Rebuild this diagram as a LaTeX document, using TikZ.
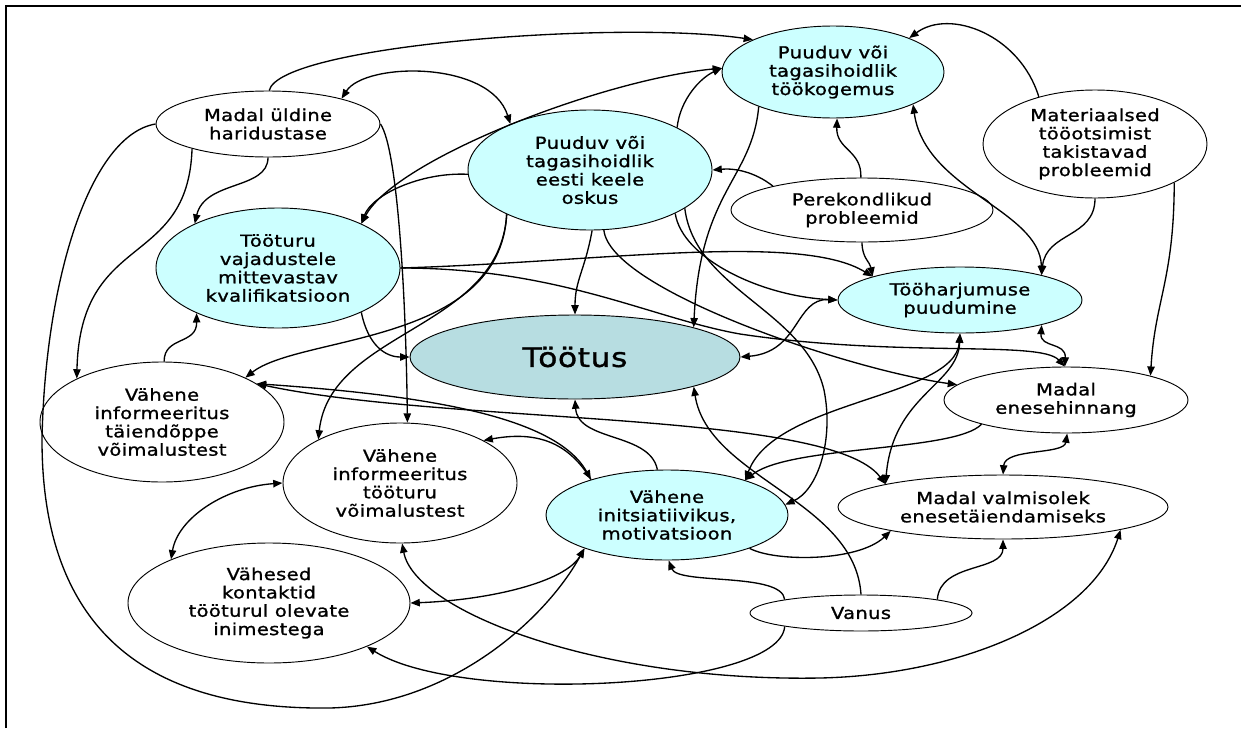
\documentclass[tikz,border=0pt]{standalone}
\usepackage{fontspec}
\setmainfont{DejaVu Sans}[FakeStretch=1.18,LetterSpace=2,FakeBold=1.2]
\usetikzlibrary{shapes.geometric, arrows.meta}
\definecolor{keycyan}{RGB}{204,255,255}
\definecolor{coreteal}{RGB}{183,221,225}
\tikzset{
  cause/.style={ellipse, draw, line width=0.7pt, inner sep=0pt, align=center,
    font=\fontsize{12.4}{13.75}\selectfont},
  key/.style={cause, fill=keycyan},
  radii/.style 2 args={minimum width={1.5*#1pt}, minimum height={1.5*#2pt}},
}
\begin{document}
\begin{tikzpicture}[x=0.75pt, y=-0.75pt, >={Triangle[length=7pt,width=5.5pt]}, line width=1pt]
    \useasboundingbox (0,0) rectangle (1241,728);
    \draw[line width=1.5pt] (5.5,728) -- (5.5,5.5) -- (1241,5.5);

    \node[cause, radii={112}{33}] (haridus) at (268,124) {Madal üldine\\haridustase};
    \node[key, radii={111}{46}] (kogemus) at (833,72) {Puuduv või\\tagasihoidlik\\töökogemus};
    \node[cause, radii={112}{54}] (materiaal) at (1095,144) {Materiaalsed\\tööotsimist\\takistavad\\probleemid};
    \node[key, radii={122}{60}] (keel) at (590,170) {Puuduv või\\tagasihoidlik\\eesti keele\\oskus};
    \node[cause, radii={131}{32}] (pere) at (862,210) {Perekondlikud\\probleemid};
    \node[key, radii={122}{60}] (kvalif) at (278,268) {Tööturu\\vajadustele\\mittevastav\\kvalifikatsioon};
    \node[key, radii={122}{33}] (harjumus) at (960,300) {Tööharjumuse\\puudumine};
    \node[cause, radii={165}{42}, fill=coreteal, font=\fontsize{20}{24}\selectfont] (tootus) at (575,357) {Töötus};
    \node[cause, radii={122}{33}] (enesehinnang) at (1066,400) {Madal\\enesehinnang};
    \node[cause, radii={122}{60}] (taiendope) at (162,422) {Vähene\\informeeritus\\täiendõppe\\võimalustest};
    \node[cause, radii={117}{60}] (tooturuinfo) at (400,483) {Vähene\\informeeritus\\tööturu\\võimalustest};
    \node[key, radii={121}{45}] (motiv) at (667,515) {Vähene\\initsiatiivikus,\\motivatsioon};
    \node[cause, radii={165}{32}] (valmisolek) at (1003,507) {Madal valmisolek\\enesetäiendamiseks};
    \node[cause, radii={141}{60}] (kontaktid) at (269,603) {Vähesed\\kontaktid\\tööturul olevate\\inimestega};
    \node[cause, radii={111}{18}] (vanus) at (861,613) {Vanus};

    \draw[->] (haridus.88) .. controls (280,45) and (620,20) .. (kogemus.158);
    \draw[<->] (haridus.19) .. controls (365,62) and (490,60) .. (keel.150);
    \draw[->] (haridus.0) .. controls (398,150) and (406,300) .. (tooturuinfo.83);
    \draw[->] (haridus.180) .. controls (90,135) and (45,280) .. (42,440)
        .. controls (42,650) and (170,710) .. (330,708)
        .. controls (450,705) and (545,620) .. (motiv.202);
    \draw[->] (haridus.198) .. controls (188,270) and (80,230) .. (taiendope.153);
    \draw[->] (haridus.270) .. controls (268,190) and (205,180) .. (kvalif.152);

    \draw[->] (keel.182) .. controls (420,172) and (372,195) .. (kvalif.28);
    \draw[<->] (kvalif.28) .. controls (395,160) and (600,80) .. (kogemus.178);
    \draw[->] (kvalif.0) .. controls (600,262) and (800,232) .. (harjumus.165);
    \draw[->] (kvalif.0) .. controls (560,268) and (650,318) .. (740,334)
        .. controls (900,358) and (1040,340) .. (enesehinnang.92);
    \draw[->] (kvalif.-28) .. controls (368,345) and (385,357) .. (tootus.180);
    \draw[->] (taiendope.88) .. controls (164,336) and (197,345) .. (kvalif.209);

    \draw[->] (keel.208) .. controls (500,345) and (300,335) .. (taiendope.28);
    \draw[->] (keel.208) .. controls (500,330) and (330,330) .. (tooturuinfo.152);
    \draw[->] (keel.272) .. controls (585,270) and (575,280) .. (tootus.90);
    \draw[->] (keel.283) .. controls (610,290) and (850,370) .. (enesehinnang.172);
    \draw[->] (keel.-27) .. controls (682,258) and (760,296) .. (harjumus.180);
    \draw[->] (keel.-22) .. controls (695,290) and (805,310) .. (824,390)
        .. controls (834,440) and (818,490) .. (motiv.5);
    \draw[->] (keel.26) .. controls (680,100) and (700,78) .. (kogemus.178);
    \draw[->] (kogemus.205) .. controls (752,180) and (700,190) .. (tootus.14);

    \draw[->] (pere.165) .. controls (755,172) and (735,168) .. (keel.0);
    \draw[->] (pere.92) .. controls (862,150) and (836,150) .. (kogemus.275);
    \draw[->] (pere.270) .. controls (862,258) and (870,262) .. (harjumus.165);

    \draw[->] (materiaal.140) .. controls (1020,35) and (950,8) .. (kogemus.24);
    \draw[->] (materiaal.270) .. controls (1095,238) and (1046,232) .. (harjumus.17);
    \draw[<->] (kogemus.-22) .. controls (925,190) and (1040,210) .. (harjumus.17);
    \draw[->] (materiaal.-26) .. controls (1174,280) and (1155,300) .. (enesehinnang.16);

    \draw[<->] (harjumus.-17) .. controls (1040,348) and (1066,342) .. (enesehinnang.92);
    \draw[<->] (enesehinnang.-88) .. controls (1064,455) and (1005,448) .. (valmisolek.90);
    \draw[<->] (harjumus.-90) .. controls (958,385) and (893,395) .. (valmisolek.169);
    \draw[<->] (harjumus.-90) .. controls (955,398) and (775,400) .. (motiv.24);
    \draw[->] (enesehinnang.196) .. controls (955,452) and (790,445) .. (motiv.24);
    \draw[<->] (harjumus.180) .. controls (795,298) and (800,352) .. (tootus.0);

    \draw[<->] (taiendope.22) .. controls (420,395) and (555,415) .. (motiv.155);
    \draw[<->] (taiendope.22) .. controls (450,425) and (830,410) .. (valmisolek.169);
    \draw[->] (motiv.155) .. controls (570,445) and (540,430) .. (tooturuinfo.27);
    \draw[->] (motiv.102) .. controls (650,432) and (578,442) .. (tootus.270);
    \draw[->] (motiv.-22) .. controls (775,562) and (858,562) .. (valmisolek.-168);
    \draw[<->] (kontaktid.0) .. controls (490,600) and (565,582) .. (motiv.202);
    \draw[<->] (tooturuinfo.180) .. controls (225,487) and (178,518) .. (kontaktid.156);
    \draw[<->] (tooturuinfo.-88) .. controls (415,612) and (600,682) .. (820,678)
        .. controls (960,675) and (1092,620) .. (valmisolek.-11);

    \draw[->] (vanus.90) .. controls (855,500) and (708,478) .. (tootus.-14);
    \draw[->] (vanus.170) .. controls (782,572) and (678,585) .. (motiv.-88);
    \draw[->] (vanus.190) .. controls (780,690) and (460,705) .. (kontaktid.-24);
    \draw[->] (vanus.10) .. controls (940,562) and (1003,572) .. (valmisolek.-90);
\end{tikzpicture}
\end{document}
